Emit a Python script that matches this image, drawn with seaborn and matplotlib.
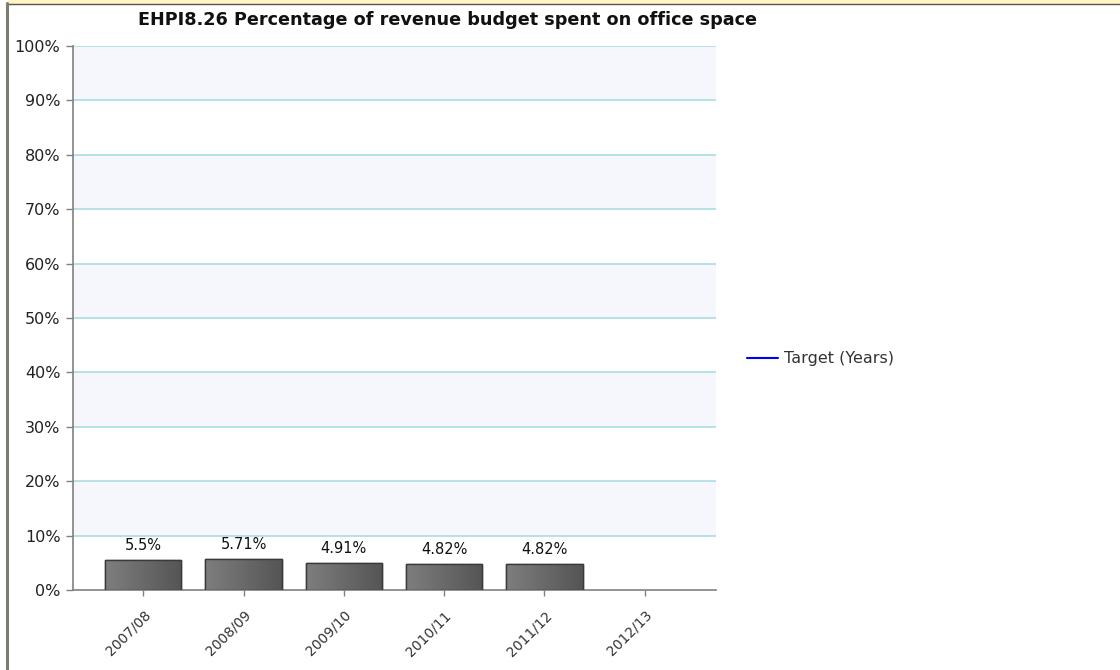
import matplotlib
matplotlib.use("Agg")

import matplotlib.pyplot as plt
import matplotlib.ticker as mticker
from matplotlib.patches import Rectangle
from matplotlib.lines import Line2D
import numpy as np
import seaborn as sns
import pandas as pd

years = ["2007/08", "2008/09", "2009/10", "2010/11", "2011/12", "2012/13"]
values = [5.5, 5.71, 4.91, 4.82, 4.82, None]
value_labels = ["5.5%", "5.71%", "4.91%", "4.82%", "4.82%", ""]
y_ticks = [0, 10, 20, 30, 40, 50, 60, 70, 80, 90, 100]

sns.set_theme(style="white")
plt.rcParams["font.family"] = ["DejaVu Sans"]

df = pd.DataFrame({"year": years, "value": values})

fig = plt.figure(figsize=(11.2, 6.7), dpi=100)
ax = fig.add_axes([73 / 1120, 1 - 590 / 670, (716 - 73) / 1120, (590 - 46) / 670])

# alternating bands + grid
for lo in range(10, 100, 20):
    ax.axhspan(lo, lo + 10, color="#F6F7FD", zorder=0, lw=0)
for t in y_ticks[1:]:
    ax.axhline(t, color="#A9DDE2", lw=1.2, zorder=1)

sns.barplot(data=df, x="year", y="value", order=years, color="#6A6A6A",
            edgecolor="#3A3A3A", linewidth=1.0, width=0.76, saturation=1,
            ax=ax, zorder=3)

# horizontal grey gradient inside each bar
grad = np.linspace(0, 1, 64).reshape(1, -1)
cmap = matplotlib.colors.LinearSegmentedColormap.from_list("g", ["#7E7E7E", "#555555"])
bars = list(ax.containers[0])
for p in bars:
    h = p.get_height()
    if h and h > 0:
        x0, w = p.get_x(), p.get_width()
        im = ax.imshow(grad, extent=[x0, x0 + w, 0, h], aspect="auto",
                       cmap=cmap, zorder=3.5, interpolation="bilinear")
        im.set_clip_path(p)
        ax.add_patch(Rectangle((x0, 0), w, h, fill=False, edgecolor="#3A3A3A",
                               lw=1.0, zorder=3.6))

for i, (v, lab) in enumerate(zip(values, value_labels)):
    if v is not None:
        ax.text(i, v + 1.3, lab, ha="center", va="bottom", fontsize=10.5,
                color="#111111", zorder=4)

ax.set_xlim(-0.7, 5.71)
ax.set_ylim(0, 100)
ax.set_yticks(y_ticks)
ax.yaxis.set_major_formatter(mticker.FuncFormatter(lambda v, p: f"{v:.0f}%"))
ax.tick_params(axis="y", labelsize=11.5, colors="#222222", length=5, width=1,
               left=True, direction="out", pad=4)
ax.tick_params(axis="x", labelsize=10, colors="#333333", length=4, width=1,
               bottom=True, direction="out", pad=9)
for lbl in ax.get_xticklabels():
    lbl.set_rotation(45)
    lbl.set_ha("right")
    lbl.set_rotation_mode("anchor")
ax.set_xlabel("")
ax.set_ylabel("")
for side in ["top", "right"]:
    ax.spines[side].set_visible(False)
for side in ["left", "bottom"]:
    ax.spines[side].set_color("#808080")
    ax.spines[side].set_linewidth(1.2)
ax.tick_params(axis="both", color="#808080")

fig.text(448 / 1120, 1 - 20 / 670, "EHPI8.26 Percentage of revenue budget spent on office space",
         ha="center", va="center", fontsize=12.7, fontweight="bold", color="#111111")

# legend for the (empty) target series
handle = Line2D([], [], color="#0000EE", lw=1.5)
fig.legend([handle], ["Target (Years)"], loc="center left",
           bbox_to_anchor=(733 / 1120, 1 - 359 / 670), frameon=False,
           fontsize=11.5, handlelength=1.9, handletextpad=0.4,
           labelcolor="#333333")

# page frame bits
fig.patches.append(Rectangle((8 / 1120, 1 - 3 / 670), 1, 3 / 670,
                             transform=fig.transFigure, color="#FFF4C4", zorder=0))
fig.lines.append(Line2D([8 / 1120, 1], [1 - 3.5 / 670] * 2, transform=fig.transFigure,
                        color="#555555", lw=1))
fig.lines.append(Line2D([7 / 1120] * 2, [0, 1 - 3 / 670], transform=fig.transFigure,
                        color="#7B7F70", lw=2.2))

fig.savefig("out.png", dpi=100)
